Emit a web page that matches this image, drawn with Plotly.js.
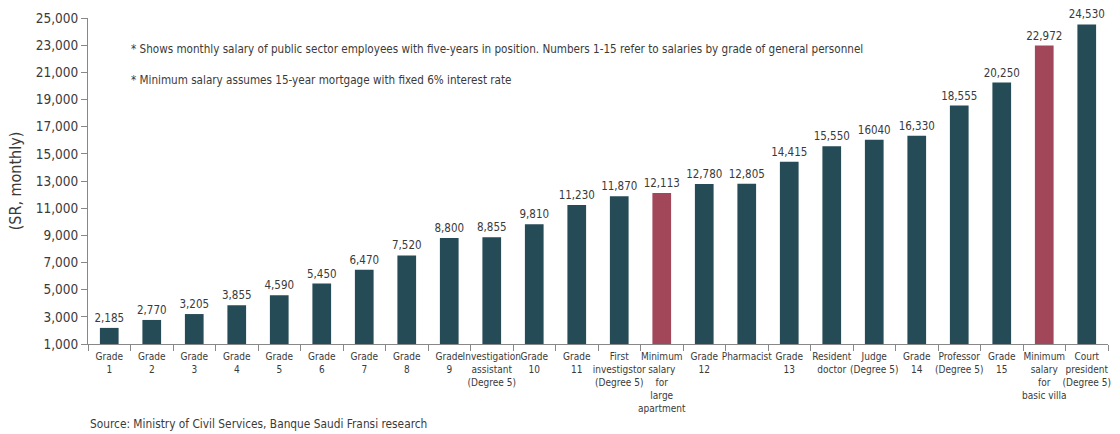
<!DOCTYPE html>
<html>
<head>
<meta charset="utf-8">
<script src="https://cdn.plot.ly/plotly-3.0.1.min.js"></script>
<style>html,body{margin:0;padding:0;background:#fff;}#chart{width:1120px;height:434px;}</style>
</head>
<body>
<div id="chart"></div>
<script>
const categories = [
  "Grade<br>1","Grade<br>2","Grade<br>3","Grade<br>4","Grade<br>5","Grade<br>6","Grade<br>7","Grade<br>8","Grade<br>9",
  "Investigation<br>assistant<br>(Degree 5)","Grade<br>10","Grade<br>11","First<br>investigstor<br>(Degree 5)",
  "Minimum<br>salary<br>for<br>large<br>apartment","Grade<br>12","Pharmacist","Grade<br>13","Resident<br>doctor",
  "Judge<br>(Degree 5)","Grade<br>14","Professor<br>(Degree 5)","Grade<br>15","Minimum<br>salary<br>for<br>basic villa",
  "Court<br>president<br>(Degree 5)"
];
const salaries = [2185,2770,3205,3855,4590,5450,6470,7520,8800,8855,9810,11230,11870,12113,12780,12805,14415,15550,16040,16330,18555,20250,22972,24530];
const valueLabels = ["2,185","2,770","3,205","3,855","4,590","5,450","6,470","7,520","8,800","8,855","9,810","11,230","11,870","12,113","12,780","12,805","14,415","15,550","16040","16,330","18,555","20,250","22,972","24,530"];
const isHousing = [0,0,0,0,0,0,0,0,0,0,0,0,0,1,0,0,0,0,0,0,0,0,1,0];
const tickVals = [1000,3000,5000,7000,9000,11000,13000,15000,17000,19000,21000,23000,25000];
const tickText = ["1,000","3,000","5,000","7,000","9,000","11,000","13,000","15,000","17,000","19,000","21,000","23,000","25,000"];

const TEAL = "#244b56", RED = "#a2475a";
const FONT = "DejaVu Sans Condensed, Liberation Sans Narrow, sans-serif";

const trace = {
  type: "bar",
  x: categories,
  y: salaries,
  text: valueLabels,
  textposition: "outside",
  constraintext: "none",
  cliponaxis: false,
  textfont: {family: FONT, size: 11.5, color: "#3a3a3a"},
  marker: {color: isHousing.map(h => h ? RED : TEAL)},
  hoverinfo: "skip"
};

const layout = {
  width: 1120, height: 434,
  margin: {l: 88, r: 12, t: 18, b: 90},
  paper_bgcolor: "#fff", plot_bgcolor: "#fff",
  bargap: 0.56,
  showlegend: false,
  font: {family: FONT, color: "#3a3a3a"},
  xaxis: {
    type: "category",
    tickson: "boundaries",
    ticks: "outside", ticklen: 6, tickcolor: "#888",
    showline: true, linecolor: "#888", linewidth: 1,
    showgrid: false, zeroline: false,
    tickfont: {family: FONT, size: 10, color: "#3a3a3a"},
    ticklabelstandoff: 3,
    tickangle: 0,
    automargin: false
  },
  yaxis: {
    range: [1000, 25000],
    tickvals: tickVals, ticktext: tickText,
    ticks: "outside", ticklen: 6, tickcolor: "#888",
    showline: true, linecolor: "#888", linewidth: 1,
    showgrid: false, zeroline: false,
    tickfont: {family: FONT, size: 13.5, color: "#3a3a3a"},
    title: {text: "(SR, monthly)", font: {family: FONT, size: 16, color: "#3a3a3a"}, standoff: 10},
    automargin: false
  },
  annotations: [
    {text: "* Shows monthly salary of public sector employees with five-years in position. Numbers 1-15 refer to salaries by grade of general personnel",
     xref: "paper", yref: "paper", x: 0.04, y: 0.905, xanchor: "left", yanchor: "middle", showarrow: false,
     font: {family: FONT, size: 11.6, color: "#3a3a3a"}},
    {text: "* Minimum salary assumes 15-year mortgage with fixed 6% interest rate",
     xref: "paper", yref: "paper", x: 0.04, y: 0.81, xanchor: "left", yanchor: "middle", showarrow: false,
     font: {family: FONT, size: 11.6, color: "#3a3a3a"}},
    {text: "Source: Ministry of Civil Services, Banque Saudi Fransi research",
     xref: "paper", yref: "paper", x: 0.0, y: -0.245, xanchor: "left", yanchor: "middle", showarrow: false,
     font: {family: FONT, size: 11.8, color: "#3a3a3a"}}
  ]
};

Plotly.newPlot("chart", [trace], layout, {displayModeBar: false, staticPlot: true});
</script>
</body>
</html>
